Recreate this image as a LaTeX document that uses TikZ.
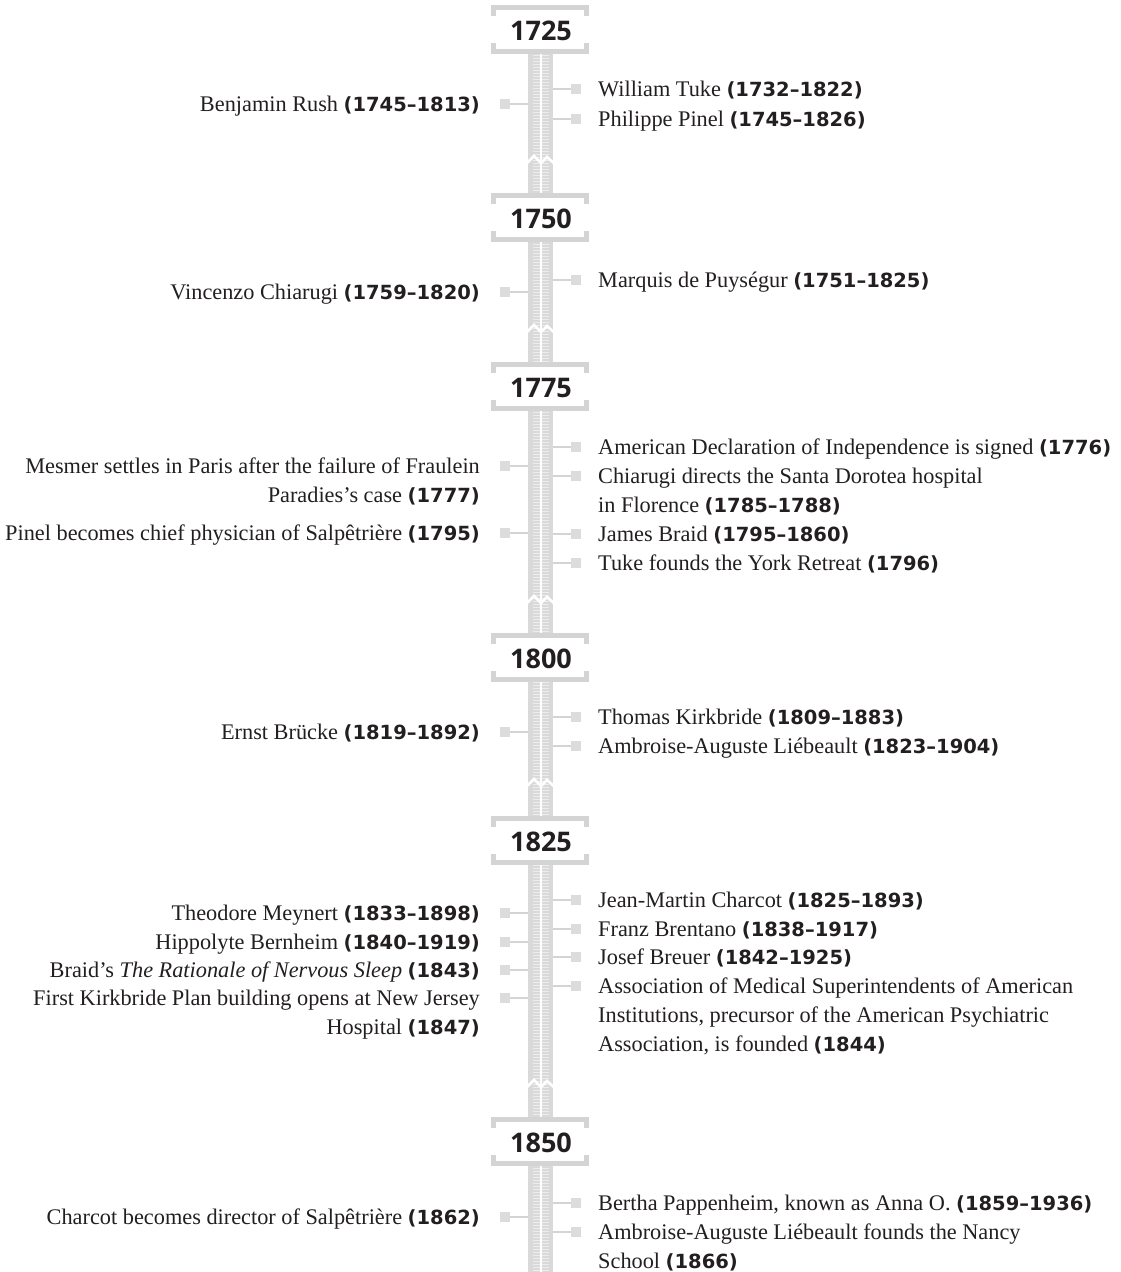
\documentclass[tikz,border=0pt]{standalone}
\usepackage{fontspec}
\setmainfont{Liberation Serif}
\newfontfamily\numfam{DejaVu Sans}
\newfontfamily\yearfam{Open Sans}
\definecolor{txt}{HTML}{231F20}
\definecolor{spinec}{HTML}{D9D9D9}
\definecolor{stripec}{HTML}{EDEDED}
\definecolor{brk}{HTML}{D4D4D4}
\definecolor{mkc}{HTML}{DCDCDC}
\definecolor{cnc}{HTML}{D4D4D4}
\newcommand\yr[1]{{\numfam\bfseries\fontsize{19.5}{29}\selectfont(#1)}}
\newcommand\rlines[1]{\begin{tabular}[t]{@{}l@{}}#1\end{tabular}}
\newcommand\llines[1]{\begin{tabular}[t]{@{}r@{}}#1\end{tabular}}
\tikzset{
  rtext/.style={anchor=base west, inner sep=0pt, text=txt, font=\fontsize{22.3}{29}\selectfont},
  ltext/.style={anchor=base east, inner sep=0pt, text=txt, font=\fontsize{22.3}{29}\selectfont},
  mksq/.style={rectangle, fill=mkc, draw=none, minimum size=10pt, inner sep=0pt},
  conn/.style={draw=cnc, line width=2pt},
  yearlbl/.style={font=\yearfam\bfseries\fontsize{27}{30}\selectfont, text=txt, inner sep=0pt},
  brkt/.style={fill=brk},
  zig/.style={draw=white, line width=2.6pt, line join=miter},
  stripe/.style={draw=stripec, line width=1.2pt},
}
\newcommand\ritem[3]{%
  \node[mksq] (#1m) at (576,#2) {};
  \draw[conn] (#1m.west) -- (#1m.west -| sR);
  \node[rtext] (#1t) at (598,#2+7.5) {#3};
}
\newcommand\litem[3]{%
  \node[mksq] (#1m) at (505,#2) {};
  \draw[conn] (#1m.east) -- (#1m.east -| sL);
  \node[ltext] (#1t) at (480,#2+7.5) {#3};
}
\begin{document}
\begin{tikzpicture}[x=1pt,y=-1pt]
\useasboundingbox[fill=white] (0,0) rectangle (1120,1272);
\coordinate (sL) at (528,0);
\coordinate (sR) at (553,0);
% spine
\fill[spinec] (528,54) rectangle (553,1272);
\foreach \i in {0,...,405} {\draw[stripe] (533,55.5+3*\i) -- (549,55.5+3*\i);}
\draw[white, line width=1.8pt] (541,54) -- (541,1272);
% breaks
\foreach \b in {160,329,600,783,1084} {
  \draw[zig] (525,\b+5) -- (534,\b-4) -- (541,\b+3) -- (547,\b-3) -- (556,\b+5);
}
% year boxes
\foreach \c/\lbl in {31/1725,219/1750,388/1775,659/1800,842/1825,1143/1850} {
  \fill[white] (491,\c-21) rectangle (589,\c+18);
  \fill[brkt] (491,\c-26) rectangle (589,\c-21);
  \fill[brkt] (491,\c-21) rectangle (496,\c-15);
  \fill[brkt] (584,\c-21) rectangle (589,\c-15);
  \fill[brkt] (491,\c+18) rectangle (589,\c+23);
  \fill[brkt] (491,\c+18) rectangle (496,\c+12);
  \fill[brkt] (584,\c+18) rectangle (589,\c+12);
  \node[yearlbl] (y\lbl) at (541,\c) {\lbl};
}
% right items
\ritem{r1}{89}{William Tuke \yr{1732–1822}}
\ritem{r2}{119}{Philippe Pinel \yr{1745–1826}}
\ritem{r3}{280}{Marquis de Puységur \yr{1751–1825}}
\ritem{r4}{447}{American Declaration of Independence is signed \yr{1776}}
\ritem{r5}{476}{\rlines{Chiarugi directs the Santa Dorotea hospital\\in Florence \yr{1785–1788}}}
\ritem{r6}{534}{James Braid \yr{1795–1860}}
\ritem{r7}{563}{Tuke founds the York Retreat \yr{1796}}
\ritem{r8}{717}{Thomas Kirkbride \yr{1809–1883}}
\ritem{r9}{746}{Ambroise-Auguste Liébeault \yr{1823–1904}}
\ritem{r10}{900}{Jean-Martin Charcot \yr{1825–1893}}
\ritem{r11}{928.5}{Franz Brentano \yr{1838–1917}}
\ritem{r12}{957}{Josef Breuer \yr{1842–1925}}
\ritem{r13}{985.5}{\rlines{Association of Medical Superintendents of American\\Institutions, precursor of the American Psychiatric\\Association, is founded \yr{1844}}}
\ritem{r14}{1203}{Bertha Pappenheim, known as Anna O. \yr{1859–1936}}
\ritem{r15}{1232}{\rlines{Ambroise-Auguste Liébeault founds the Nancy\\School \yr{1866}}}
% left items
\litem{l1}{104}{Benjamin Rush \yr{1745–1813}}
\litem{l2}{292}{Vincenzo Chiarugi \yr{1759–1820}}
\litem{l3}{465.5}{\llines{Mesmer settles in Paris after the failure of Fraulein\\Paradies’s case \yr{1777}}}
\litem{l4}{532.5}{Pinel becomes chief physician of Salpêtrière \yr{1795}}
\litem{l5}{732}{Ernst Brücke \yr{1819–1892}}
\litem{l6}{913}{Theodore Meynert \yr{1833–1898}}
\litem{l7}{942}{Hippolyte Bernheim \yr{1840–1919}}
\litem{l8}{970}{Braid’s \textit{The Rationale of Nervous Sleep} \yr{1843}}
\litem{l9}{998}{\llines{First Kirkbride Plan building opens at New Jersey\\Hospital \yr{1847}}}
\litem{l10}{1217}{Charcot becomes director of Salpêtrière \yr{1862}}
\end{tikzpicture}
\end{document}
